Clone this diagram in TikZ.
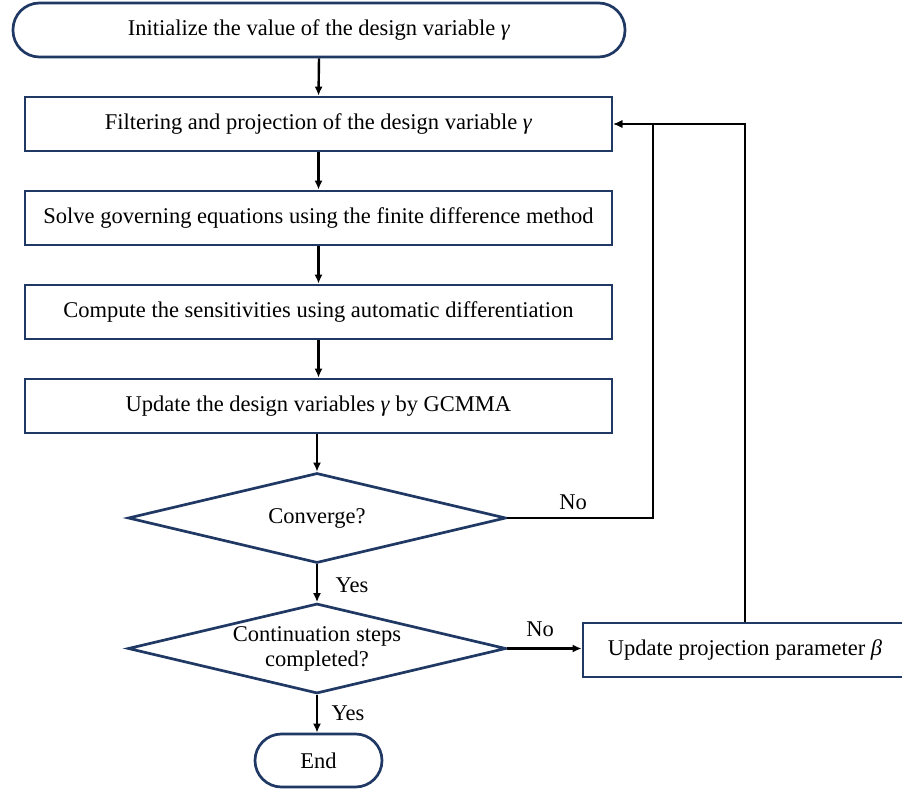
\documentclass[tikz,border=0pt]{standalone}
\usepackage{fontspec}
\setmainfont{Liberation Serif}
\usetikzlibrary{shapes.geometric,arrows.meta}
\definecolor{boxblue}{RGB}{31,56,100}
\tikzset{
  base/.style={draw=boxblue, line width=2.7pt, fill=white, inner sep=0pt, align=center,
    font=\fontsize{22.5}{25}\selectfont},
  procbox/.style={base, rectangle, minimum width=587pt, minimum height=54pt},
  term/.style={base, rectangle, rounded corners=26.5pt},
  decision/.style={base, diamond, minimum width=378pt, minimum height=90pt},
  txt/.style={inner sep=0pt, align=center, font=\fontsize{22.5}{25}\selectfont},
  arr/.style={line width=2.4pt, black, -{Latex[length=9pt,width=8pt]}},
  conn/.style={line width=2.4pt, black},
}
\begin{document}
\begin{tikzpicture}[x=1pt,y=-1pt]
\useasboundingbox (0,0) rectangle (902,791);
\node[term, minimum width=612pt, minimum height=54pt] (init) at (319,30) {Initialize the value of the design variable \textit{γ}};
\node[procbox] (b1) at (318.5,124) {Filtering and projection of the design variable \textit{γ}};
\node[procbox] (b2) at (318.5,218) {Solve governing equations using the finite difference method};
\node[procbox] (b3) at (318.5,312) {Compute the sensitivities using automatic differentiation};
\node[procbox] (b4) at (318.5,406) {Update the design variables \textit{γ} by GCMMA};
\node[decision] (d1) at (317,518) {};
\node[txt] (d1t) at (d1.center) {Converge?};
\node[decision] (d2) at (317,648.5) {};
\node[txt] (d2t) at (d2.center) {Continuation steps\\completed?};
\node[term, minimum width=127pt, minimum height=53pt] (fin) at (318.5,760.5) {End};
\node[base, rectangle, minimum width=324pt, minimum height=54pt] (up) at (745,650) {Update projection parameter \textit{β}};

\coordinate (c1) at (653,518);

\draw[arr] (init.south) -- (b1.north);
\draw[arr] (b1.south) -- (b2.north);
\draw[arr] (b2.south) -- (b3.north);
\draw[arr] (b3.south) -- (b4.north);
\draw[arr] (b4.south -| d1.north) -- (d1.north);
\draw[arr] (d1.south) -- (d2.north);
\draw[arr] (d2.south) -- (fin.north -| d2.south);
\draw[arr] (d1.east) -- (c1) |- (b1.east);
\draw[arr] (up.north) |- (b1.east);
\draw[arr] (d2.east) -- (d2.east -| up.west);

\node[txt] (no1) at (573,502) {No};
\node[txt] (no2) at (540,629) {No};
\node[txt] (yes1) at (352,585) {Yes};
\node[txt] (yes2) at (348,713) {Yes};
\end{tikzpicture}
\end{document}
